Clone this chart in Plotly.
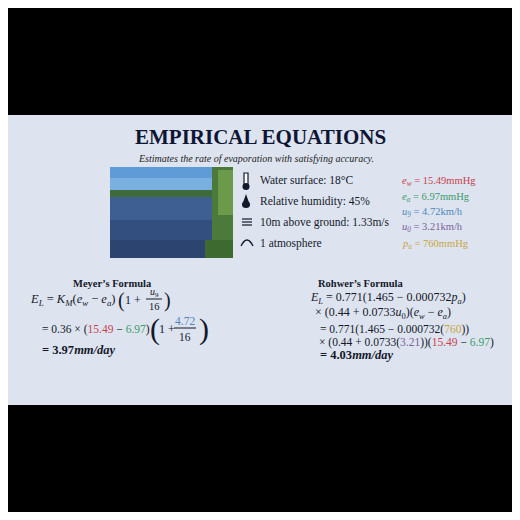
import plotly.graph_objects as go

title = "EMPIRICAL EQUATIONS"
subtitle = "Estimates the rate of evaporation with satisfying accuracy."
conditions = ["Water surface: 18°C", "Relative humidity: 45%",
              "10m above ground: 1.33m/s", "1 atmosphere"]
var_labels = ["e<sub>w</sub>", "e<sub>a</sub>", "u<sub>9</sub>", "u<sub>0</sub>", "p<sub>a</sub>"]
var_values = ["15.49mmHg", "6.97mmHg", "4.72km/h", "3.21km/h", "760mmHg"]
var_colors = ["#c9414e", "#3c9a6c", "#4f84bd", "#7b5d9c", "#c9a443"]
K_M = "0.36"
meyer_result = "3.97"
rohwer_result = "4.03"

SERIF = "Liberation Serif"
INK = "#14182a"
BG = "#dde4ef"

def c(i, t=None):
    return f"<span style='color:{var_colors[i]}'>{t if t else var_values[i].rstrip('mHgk/h')}</span>"

fig = go.Figure()
shapes = []
ann = []

def A(x, y, text, size=11, anchor="left", color=INK, family=SERIF):
    ann.append(dict(x=x, y=y, xref="x", yref="y", text=text, showarrow=False,
                    xanchor=anchor, yanchor="middle",
                    font=dict(family=family, size=size, color=color)))

def R(x0, y0, x1, y1, fill, line=None, kind="rect", w=0):
    shapes.append(dict(type=kind, xref="x", yref="y", x0=x0, y0=y0, x1=x1, y1=y1,
                       fillcolor=fill, line=dict(color=line or fill, width=w), layer="below"))

def L(x0, y0, x1, y1, w=1):
    shapes.append(dict(type="line", x0=x0, x1=x1, y0=y0, y1=y1, xref="x", yref="y",
                       line=dict(color=INK, width=w)))

# slide
R(0, 115, 520, 405, BG)

# lake photo
R(110, 167, 233, 194, "#79b0e0")
R(110, 167, 233, 178, "#5f9bd6")
R(110, 190, 215, 198, "#3f6a3a")
R(110, 197, 233, 258, "#3d5f92")
R(110, 220, 233, 258, "#324f80")
R(110, 240, 233, 258, "#2b4470")
R(212, 167, 233, 258, "#4c7a3a")
R(218, 170, 233, 215, "#6a9a4a")
R(205, 240, 233, 258, "#3d6a2e")

A(260, 137, f"<b>{title}</b>", size=21, anchor="center", color="#0e1535")
A(256, 158, f"<i>{subtitle}</i>", size=10, anchor="center", color="#222")

# icons
ys = [180, 201, 222, 243]
R(244, 173, 248, 185, "white", INK, w=1.2)
R(242.5, 183, 249.5, 190, INK, kind="circle")
R(242, 201, 250, 208, INK, kind="circle")
shapes.append(dict(type="path", path="M 246 194 L 242.5 204 L 249.5 204 Z", fillcolor=INK,
                   line=dict(color=INK, width=0), xref="x", yref="y"))
for yy in (219, 222, 225):
    L(242, yy, 252, yy, 1.2)
shapes.append(dict(type="path", path="M 241 246 Q 247 234 253 246", xref="x", yref="y",
                   line=dict(color=INK, width=1.3)))
for t, y in zip(conditions, ys):
    A(258, y, t, size=11.5)

vy = [181, 197, 212, 227, 244]
for i, y in enumerate(vy):
    A(400, y, f"<span style='color:{var_colors[i]}'><i>{var_labels[i]}</i> = {var_values[i]}</span>", size=10.5)

# Meyer
A(112, 283, "<b>Meyer’s Formula</b>", size=10.5, anchor="center")
A(28, 300, "<i>E<sub>L</sub></i> = <i>K<sub>M</sub></i>(<i>e<sub>w</sub></i> − <i>e<sub>a</sub></i>)", size=12.5)
A(116, 300, "(", size=20); A(123, 300, "1 +", size=12)
A(154, 292, "<i>u</i><sub>9</sub>", size=10, anchor="center")
L(146, 299, 162, 299)
A(154, 306, "16", size=10.5, anchor="center"); A(162, 300, ")", size=20)
A(40, 329, f"= {K_M} × ({c(0)} − {c(1)})", size=11.5)
A(148, 329, "(", size=30); A(157, 329, "1 +", size=12)
A(185, 321, c(2), size=11.5, anchor="center")
L(174, 328, 196, 328)
A(185, 337, "16", size=11.5, anchor="center"); A(197, 329, ")", size=30)
A(40, 350, f"<b>= {meyer_result}<i>mm/day</i></b>", size=12.5)

# Rohwer
A(360, 283, "<b>Rohwer’s Formula</b>", size=10.5, anchor="center")
A(308, 298, "<i>E<sub>L</sub></i> = 0.771(1.465 − 0.000732<i>p<sub>a</sub></i>)", size=12)
A(313, 313, "× (0.44 + 0.0733<i>u</i><sub>0</sub>)(<i>e<sub>w</sub></i> − <i>e<sub>a</sub></i>)", size=12)
A(318, 329, f"= 0.771(1.465 − 0.000732({c(4,'760')}))", size=11.5)
A(317, 342, f"× (0.44 + 0.0733({c(3,'3.21')}))({c(0)} − {c(1)})", size=11.5)
A(318, 355, f"<b>= {rohwer_result}<i>mm/day</i></b>", size=12.5)

fig.update_layout(width=504, height=504, margin=dict(l=0, r=0, t=0, b=0),
                  paper_bgcolor="black", plot_bgcolor="black",
                  xaxis=dict(range=[8, 512], visible=False, fixedrange=True),
                  yaxis=dict(range=[512, 8], visible=False, fixedrange=True),
                  shapes=shapes, annotations=ann, showlegend=False)
fig.write_html("out.html")
